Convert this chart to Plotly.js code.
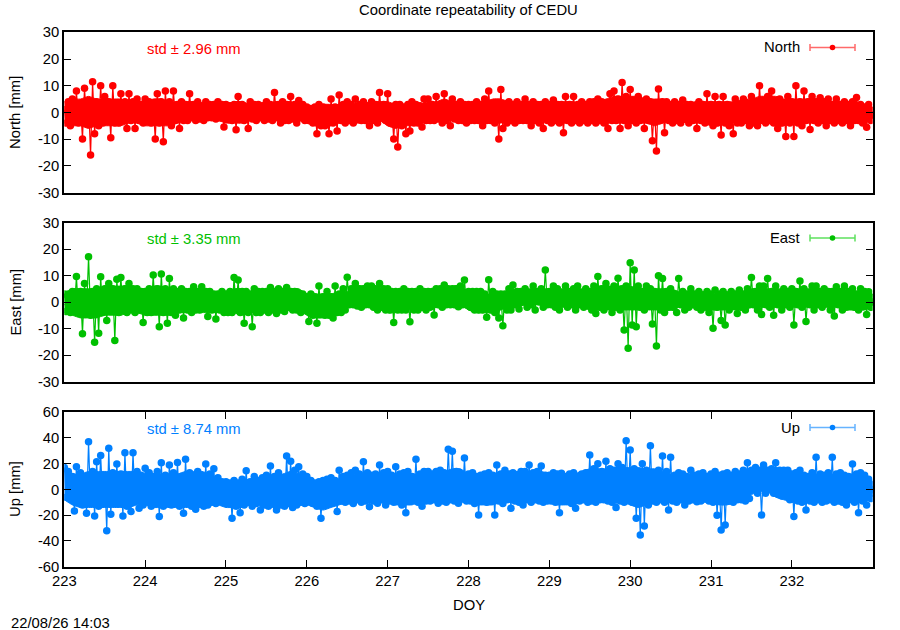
<!DOCTYPE html>
<html>
<head>
<meta charset="utf-8">
<script src="https://cdn.plot.ly/plotly-3.0.1.min.js"></script>
<style>html,body{margin:0;padding:0;background:#fff;}#chart{width:900px;height:630px;}</style>
</head>
<body>
<div id="chart"></div>
<script>
// ---- data ----
const doy = [
223,223.025,223.05,223.075,223.1,223.125,223.15,223.175,223.2,223.225,223.25,223.275,223.3,223.325,223.35,223.375,223.4,223.425,223.45,223.475,
223.5,223.525,223.55,223.575,223.6,223.625,223.65,223.675,223.7,223.725,223.75,223.775,223.8,223.825,223.85,223.875,223.9,223.925,223.95,223.975,
224,224.025,224.05,224.075,224.1,224.125,224.15,224.175,224.2,224.225,224.25,224.275,224.3,224.325,224.35,224.375,224.4,224.425,224.45,224.475,
224.5,224.525,224.55,224.575,224.6,224.625,224.65,224.675,224.7,224.725,224.75,224.775,224.8,224.825,224.85,224.875,224.9,224.925,224.95,224.975,
225,225.025,225.05,225.075,225.1,225.125,225.15,225.175,225.2,225.225,225.25,225.275,225.3,225.325,225.35,225.375,225.4,225.425,225.45,225.475,
225.5,225.525,225.55,225.575,225.6,225.625,225.65,225.675,225.7,225.725,225.75,225.775,225.8,225.825,225.85,225.875,225.9,225.925,225.95,225.975,
226,226.025,226.05,226.075,226.1,226.125,226.15,226.175,226.2,226.225,226.25,226.275,226.3,226.325,226.35,226.375,226.4,226.425,226.45,226.475,
226.5,226.525,226.55,226.575,226.6,226.625,226.65,226.675,226.7,226.725,226.75,226.775,226.8,226.825,226.85,226.875,226.9,226.925,226.95,226.975,
227,227.025,227.05,227.075,227.1,227.125,227.15,227.175,227.2,227.225,227.25,227.275,227.3,227.325,227.35,227.375,227.4,227.425,227.45,227.475,
227.5,227.525,227.55,227.575,227.6,227.625,227.65,227.675,227.7,227.725,227.75,227.775,227.8,227.825,227.85,227.875,227.9,227.925,227.95,227.975,
228,228.025,228.05,228.075,228.1,228.125,228.15,228.175,228.2,228.225,228.25,228.275,228.3,228.325,228.35,228.375,228.4,228.425,228.45,228.475,
228.5,228.525,228.55,228.575,228.6,228.625,228.65,228.675,228.7,228.725,228.75,228.775,228.8,228.825,228.85,228.875,228.9,228.925,228.95,228.975,
229,229.025,229.05,229.075,229.1,229.125,229.15,229.175,229.2,229.225,229.25,229.275,229.3,229.325,229.35,229.375,229.4,229.425,229.45,229.475,
229.5,229.525,229.55,229.575,229.6,229.625,229.65,229.675,229.7,229.725,229.75,229.775,229.8,229.825,229.85,229.875,229.9,229.925,229.95,229.975,
230,230.025,230.05,230.075,230.1,230.125,230.15,230.175,230.2,230.225,230.25,230.275,230.3,230.325,230.35,230.375,230.4,230.425,230.45,230.475,
230.5,230.525,230.55,230.575,230.6,230.625,230.65,230.675,230.7,230.725,230.75,230.775,230.8,230.825,230.85,230.875,230.9,230.925,230.95,230.975,
231,231.025,231.05,231.075,231.1,231.125,231.15,231.175,231.2,231.225,231.25,231.275,231.3,231.325,231.35,231.375,231.4,231.425,231.45,231.475,
231.5,231.525,231.55,231.575,231.6,231.625,231.65,231.675,231.7,231.725,231.75,231.775,231.8,231.825,231.85,231.875,231.9,231.925,231.95,231.975,
232,232.025,232.05,232.075,232.1,232.125,232.15,232.175,232.2,232.225,232.25,232.275,232.3,232.325,232.35,232.375,232.4,232.425,232.45,232.475,
232.5,232.525,232.55,232.575,232.6,232.625,232.65,232.675,232.7,232.725,232.75,232.775,232.8,232.825,232.85,232.875,232.9,232.925,232.95,232.975,
233];

const north = [
1,-4,4,-5,5,-3,8,-4,3,-10,9,-3,4,-16,11.5,-8,4,-5,10,-4,
6,-3,4,-9.5,10,-4,3,-4,7,-3,4,-6,7,-3,4,-6,5,-3,3,-4,
5,-3,4,-4,3,-10,7,-4,4,-11,8,-3,4,-5,8,-3,3,-6,4,-3,
3,-3,7,-2,3,-3,4,-2.5,2.5,-3,4,-2,3,-2,3,-2.5,4,-2,3,-5.5,
3,-2.5,2.5,-3,3,-6.5,6,-2,3,-3,2,-6,4,-2.5,3,-3,3,-2,2.5,-3,
4,-2.5,3,-3,7.5,-2,3,-4,4,-3,3,-3,6,-2.5,3,-4,4.5,-2,3,-3,
2,-3,1.5,-4,2,-8,3,-5,2,-5,1,-8,5,-4,2,-7,6.5,-3,3,-4,
4,-3,3,-4,5,-2.5,3,-3,4,-3,2.5,-5,4,-3,3,-4,7.5,-2,3,-3,
7,-4,2,-10,3,-13,3,-5,2,-8,3,-7,4,-4,3,-4,2.5,-5.5,5,-3,
5,-3,3,-3,6,-2.5,3,-4,7,-3,3,-5,5,-2.5,3,-3,4,-3,3,-4,
3,-3,3,-3,4,-3,3,-5,5,-3,8,-3,3,-4,3,-10,8.6,-6,3,-4,
4,-3,3,-4,4,-3,3,-3,5,-3,3,-5,4,-3,3,-4,3,-6,4,-3,
3,-4,4.6,-3,3,-4,3,-7.6,6,-3,3,-4,6,-3,3,-4,4,-3,3,-4,
4,-3,4,-4,5,-3,4,-4,3,-6,7,-3,8,-3,5,-6,11.2,-3,6,-5,
8.6,-3,4,-4,6,-3,4,-6,5,-3,4,-10.6,3,-14.5,8.75,-3,4,-7.6,4,-3,
3,-4,4,-3,3,-4,4.6,-2.5,3,-4,3,-3,2.5,-6,4,-3,3,-4,7,-3,
3,-5,6,-4,3,-8.5,6,-4,3,-5,2,-8,5,-4,3,-4,5,-3,3,-5,
6,-4,4,-5,10,-3,4,-4,6,-3,8,-4,4,-6,5,-4,3,-9,6,-4,
4,-9,10,-4,4,-5,8,-3,4,-6.4,6,-3,4,-4,5.5,-3,4,-5,5,-3,
3,-4,5,-3,3,-4,4,-3,3,-5,4,-3,5.6,-3,3,-4,2,-5.6,3,-3,
-1];

const east = [
3,-3.6,3,-4,4,-3,9.6,-4,4,-12,7,-4,17.1,-5,4,-15.2,5,-11.8,9.5,-4,
5,-7,7,-3,5,-14.5,8.6,-4,9.2,-3,5,-4,7,-3,5,-4,5,-3,4,-7.7,
4,-4,5,-4,10.2,-3,5,-9.3,10.6,-4,5,-8,8.9,-4,5,-5,4,-3,5,-6,
4,-3,4,-4,5.8,-3,4,-3,5.8,-2,4,-5.5,4,-3,3,-6.4,3,-3,4,-4,
3,-4,4,-4,9.2,-3,8.3,-4,4,-8,4,-4,3,-9.3,5,-4,4,-4,4,-3,
4,-4,5.5,-3,4,-4.3,5,-3,4,-3.6,5.5,-2,4,-3,4,-3,3,-4,3,-3,
2,-7.4,3,-5,2,-8,6,-4,2,-5,4,-5,2,-6,6,-4,3,-4,5,-3,
9.3,-1,5,-1,7,-1.5,5,-2,5,-1,6,-1,6,-2,5,-3,7,-2,5,-3,
5,-3,4,-7.7,4,-3,4,-3,5,-3,4,-7.5,4,-3,4,-3,5,-2,4,-3,
4,-2,4,-4.9,5,-1,5,-2,6.4,-1,5,-1,5,-1,5,-1.8,6,-1,8.3,-1,
4,-2,4,-3,4,-3,4,-3,3,-5.8,8.4,-3,4,-4,3,-6,3,-9,3,-3,
5,-3,6.4,-1,4,-2.6,4,0,5,-2,3,-1,6,-3,4,0,5,-2,12.1,-1,
4,-1,6,-2,5,-3,3,0,6,-2,4,-1,5,-3,6,-1,3,-2,5,0,
4,-3,6,-4.3,9.6,-2,5,-3,7,-1,4,-4,6,-2,9,-3,5,-10.6,6,-17.5,
14.8,-8.7,12.1,-9.3,6,-2,4,-3,6,-1,5,-8.3,4,-16.6,9.9,-3,8.9,-4,4,-2,
5,-2,3,-4,8.9,-1,4,-3,3,-2,5,-1,3,-2,4,-3,2,-2,4,-4,
3,-9.9,4.5,-2,3,-7,4,-8.7,2,-3,4,-1,3,-4.3,4.5,-2,3,-3,5,-1,
9.2,-1,4,-3,6,-4.7,6,-1,8.9,-2,4,-5,6,-1,3,-3,5,-1,4,-2,
5,-8.7,4,-1,7.9,-2,5,-7.4,3,-1,6,-3,6,-1,4,-2,5,0,4,-3,
4,-5.3,5.8,-1,4,-3,6,-2,4,-1,5,-2,3,-3,5,-1,4,-4.7,3.9,-2,
0];

const up = [
17,-6,14,-4,10,-16.7,17.7,-8,13,-12,9,-18.5,37.1,-11,14,-20.6,21.6,-13,26.4,-9,
11,-32,32,-19.3,13,-11,19.8,-9,12,-20.6,28.6,-13,10,-17.2,28.6,-9,14,-14.6,11,-12,
16.4,-9,13,-13,10,-11,14,-21,20.8,-13,11,-10,19,-12,13,-9,21,-13,10,-18.5,
23.4,-11,13,-13,10,-15.4,14,-11,11,-13,19.8,-12,12,-10,16,-11,9,-8,6,-10,
6,-9,5,-22.4,7,-13,5,-18,8,-12,14.6,-10,6,-13,10,-11,7,-16,9,-12,
11,-13,18.2,-11,10,-16,13,-12,9,-13,25.9,-11,22,-14,15,-12,17.7,-10,12,-11,
10,-9,7,-11,5,-13,6,-22.4,7,-12,8,-11,9,-10,7,-17.2,15,-9,10,-10,
11,-9,13,-11,15,-8,12,-10,21.6,-9,13,-13.4,11,-9,12,-10.8,19,-8,13,-12,
14,-9,11,-10,17.7,-8,12,-12,13,-18,14,-9,10,-8,23.4,-10,12,-13,14,-9,
14,-9,12,-8,14,-10.8,15,-9,13,-10,31.2,-8,29.6,-9,14,-10.8,12,-7,24.5,-9,
12,-9,13,-11,10,-19.8,11,-8,12,-10,13,-9,11,-19.8,19,-9,12,-11,15,-8,
12,-14.6,13,-9,11,-10,14,-12,14,-8,19,-10,13,-8,14,-9,18.2,-10,11,-9,
11,-9,13,-10,12,-18,12.5,-8,10,-8,12,-11,13,-14.6,10,-9,12,-8,13,-10,
26.8,-9,16,-10,20,-8,14,-8,22,-9,16,-10,15,-14,20,-9,17,-10,37.9,-8,
30.7,-10,16,-22.4,14,-35.4,20,-28.4,15,-12,34,-9,13,-10,15,-8,26,-10,14,-16,
25,-9,11,-10,13,-8,12,-12,10,-9,15,-8,11,-9.5,12,-9,13,-7,10,-9,
12,-10,14,-20,11,-31.5,12,-27.6,13,-9,11,-10,14,-8,12,-8,15,-9,20.8,-7,
15,2,17,-3,15,-19.8,19,-3,15,3,16,-3,20.8,-3,15,-5,15,-3,15,-8,
12,-21,13,-9,15,-10,11,-16,10,-9,13,-10,25,-8,12,-10,11,-9,13,-8,
25,-10,12,-9,13,-10,11,-12,10,-8,19.8,-10,12,-18,13,-9,11,-12,8,-7,
0];

// solid band of the dense point cloud: upper / lower edges every 0.1 day
const bandDoy = [
223,223.1,223.2,223.3,223.4,223.5,223.6,223.7,223.8,223.9,224,224.1,224.2,224.3,224.4,224.5,224.6,224.7,224.8,224.9,
225,225.1,225.2,225.3,225.4,225.5,225.6,225.7,225.8,225.9,226,226.1,226.2,226.3,226.4,226.5,226.6,226.7,226.8,226.9,
227,227.1,227.2,227.3,227.4,227.5,227.6,227.7,227.8,227.9,228,228.1,228.2,228.3,228.4,228.5,228.6,228.7,228.8,228.9,
229,229.1,229.2,229.3,229.4,229.5,229.6,229.7,229.8,229.9,230,230.1,230.2,230.3,230.4,230.5,230.6,230.7,230.8,230.9,
231,231.1,231.2,231.3,231.4,231.5,231.6,231.7,231.8,231.9,232,232.1,232.2,232.3,232.4,232.5,232.6,232.7,232.8,232.9,
233];
const northUpper = [
4,5,5,6,5,5,5,5,4,4, 4,5,5,4,4,4,4,3,3,3,
3,4,4,3,3,3,4,4,4,3, 2,2,3,3,3,4,3,3,4,4,
4,3,3,3,3,4,4,5,4,4, 3,4,4,5,5,4,4,4,4,4,
4,4,4,4,3,3,4,5,6,6, 6,6,5,5,5,4,3,3,4,4,
4,4,4,4,5,5,6,6,6,5, 5,5,5,5,4,4,4,4,4,3,
2];
const northLower = [
-4,-5,-5,-6,-5,-5,-5,-5,-4,-4, -5,-5,-5,-5,-4,-3,-3,-3,-3,-3,
-4,-4,-4,-3,-3,-3,-3,-3,-3,-3, -4,-5,-6,-5,-4,-4,-4,-4,-3,-3,
-5,-6,-5,-5,-4,-4,-3,-3,-3,-3, -3,-4,-4,-4,-4,-3,-3,-4,-4,-3,
-3,-4,-4,-3,-3,-3,-4,-4,-4,-4, -4,-4,-4,-5,-4,-3,-3,-4,-4,-4,
-5,-5,-4,-4,-4,-4,-4,-4,-5,-5, -4,-4,-4,-4,-4,-4,-4,-4,-4,-4,
-2];
const eastUpper = [
3,5,5,5,5,6,6,6,6,5, 5,6,6,5,5,4,5,5,4,4,
4,5,5,4,4,4,5,5,5,5, 3,3,3,3,4,4,6,6,6,5,
4,4,4,3,3,3,4,5,6,6, 4,3,3,3,3,4,5,5,5,5,
5,5,5,5,5,5,6,6,6,6, 6,5,5,5,5,5,4,4,4,4,
3,3,4,4,4,5,5,5,5,5, 5,5,5,5,5,5,5,4,4,4,
3];
const eastLower = [
-4,-5,-6,-6,-6,-5,-5,-5,-4,-4, -5,-5,-5,-5,-4,-4,-4,-4,-4,-4,
-4,-4,-5,-4,-4,-4,-3,-3,-3,-3, -5,-6,-6,-5,-4,-1,-1,-1,-2,-2,
-4,-4,-3,-3,-3,-3,-2,-1,0,-1, -3,-4,-4,-4,-3,-2,-2,-1,-1,-1,
-1,-2,-2,-2,-2,-3,-3,-3,-3,-3, -3,-3,-3,-3,-3,-3,-2,-2,-2,-2,
-3,-3,-3,-3,-3,-2,-2,-2,-2,-2, -2,-2,-2,-2,-2,-2,-2,-3,-3,-3,
-1];
const upUpper = [
14,12,12,14,14,14,14,14,14,14, 12,12,12,12,12,14,14,14,12,8,
6,6,7,8,8,10,12,12,14,12, 8,7,7,7,8,10,12,12,12,12,
12,12,12,12,12,14,14,14,16,16, 12,12,12,12,14,14,14,14,14,14,
12,12,12,12,14,16,16,16,17,17, 17,17,16,16,14,12,12,12,12,12,
12,12,12,14,14,16,17,17,17,16, 12,12,12,12,12,12,12,12,12,12,
6];
const upLower = [
-8,-12,-14,-14,-14,-14,-14,-14,-14,-12, -12,-14,-14,-14,-14,-14,-14,-14,-12,-12,
-14,-14,-14,-12,-12,-14,-14,-14,-12,-12, -12,-14,-16,-14,-12,-10,-10,-10,-10,-10,
-10,-12,-12,-12,-10,-10,-10,-10,-10,-10, -10,-12,-12,-12,-10,-10,-10,-10,-10,-10,
-10,-12,-12,-12,-10,-10,-8,-8,-10,-10, -12,-14,-12,-10,-10,-10,-10,-10,-10,-10,
-10,-12,-12,-10,-10,-4,-2,-2,-6,-8, -10,-10,-10,-10,-10,-10,-10,-10,-10,-10,
-5];

// thin black reference line
const refDoy = [223, 228, 233];
const refNorth = [0, 0, 0];
const refEast = [-1, -1, 0.5];
const refUp = [0, 0, 0];

const seriesNames = ['North', 'East', 'Up'];
const stdTexts = ['std \u00B1 2.96 mm', 'std \u00B1 3.35 mm', 'std \u00B1 8.74 mm'];
const yLabels = ['North [mm]', 'East [mm]', 'Up [mm]'];
const xTickVals = [223,224,225,226,227,228,229,230,231,232];
const xTickText = ['223','224','225','226','227','228','229','230','231','232'];
const neTickVals = [-30,-20,-10,0,10,20,30];
const neTickText = ['-30','-20','-10','0','10','20','30'];
const upTickVals = [-60,-40,-20,0,20,40,60];
const upTickText = ['-60','-40','-20','0','20','40','60'];

// ---- styling ----
const W = 900, H = 630;
const colors = ['#ff0000', '#00c000', '#0080ff'];
const lightColors = ['#ff6a6a', '#5ee05e', '#66b3ff'];
const FONT = 'Liberation Sans, Arial, Helvetica, sans-serif';
const FS = 14.8;
const px = x => x / W;
const py = y => 1 - y / H;

const xDom = [px(64.3), px(872.7)];
const yDoms = [[py(192.5), py(32.3)], [py(381.5), py(222.5)], [py(566.7), py(412.2)]];
const legY = [47.5, 238, 427.5];
const stdY = [49, 239, 428.5];

const ys = [north, east, up];
const uppers = [northUpper, eastUpper, upUpper];
const lowers = [northLower, eastLower, upLower];
const refs = [refNorth, refEast, refUp];
const bandX = bandDoy.concat(bandDoy.slice().reverse());
const traces = [];
for (let k = 0; k < 3; k++) {
  const xa = k === 0 ? 'x' : 'x' + (k + 1);
  const ya = k === 0 ? 'y' : 'y' + (k + 1);
  traces.push({x: refDoy, y: refs[k], xaxis: xa, yaxis: ya, type: 'scatter', mode: 'lines',
    line: {color: '#000', width: 1}, hoverinfo: 'skip', showlegend: false});
  traces.push({x: bandX, y: uppers[k].concat(lowers[k].slice().reverse()), xaxis: xa, yaxis: ya,
    type: 'scatter', mode: 'lines', fill: 'toself', fillcolor: colors[k],
    line: {color: colors[k], width: 1, shape: 'spline', smoothing: 0.6}, hoverinfo: 'skip', showlegend: false});
  traces.push({x: doy, y: ys[k], xaxis: xa, yaxis: ya, type: 'scatter', mode: 'lines+markers',
    name: seriesNames[k], line: {color: colors[k], width: 1.2},
    marker: {symbol: 'circle', size: 7.5, color: colors[k]}, showlegend: false});
}

function xAxis(k) {
  const base = {domain: xDom, range: [223, 233], anchor: k === 0 ? 'y' : 'y' + (k + 1),
    showline: true, linecolor: '#000', linewidth: 2, showgrid: false, zeroline: false,
    tickvals: xTickVals, ticktext: xTickText, tickfont: {family: FONT, size: FS, color: '#000'}};
  if (k < 2) { base.ticks = ''; base.showticklabels = false; base.mirror = true; }
  else { base.ticks = 'inside'; base.ticklen = 7; base.tickwidth = 1; base.tickcolor = '#000'; base.mirror = 'ticks'; }
  return base;
}
function yAxis(k) {
  const isUp = k === 2;
  return {domain: yDoms[k], range: isUp ? [-60, 60] : [-30, 30], anchor: k === 0 ? 'x' : 'x' + (k + 1),
    tickvals: isUp ? upTickVals : neTickVals, ticktext: isUp ? upTickText : neTickText,
    ticks: 'inside', ticklen: 7, tickwidth: 1, tickcolor: '#000', mirror: 'ticks',
    showline: true, linecolor: '#000', linewidth: 2, showgrid: false, zeroline: false,
    tickfont: {family: FONT, size: FS, color: '#000'}};
}

const annotations = [
  {text: 'Coordinate repeatability of CEDU', x: px(468.5), y: py(10), xref: 'paper', yref: 'paper',
   xanchor: 'center', yanchor: 'middle', showarrow: false, font: {family: FONT, size: FS, color: '#000'}},
  {text: 'DOY', x: px(468.5), y: py(605), xref: 'paper', yref: 'paper',
   xanchor: 'center', yanchor: 'middle', showarrow: false, font: {family: FONT, size: FS, color: '#000'}},
  {text: '22/08/26 14:03', x: px(9), y: py(622.5), xref: 'paper', yref: 'paper',
   xanchor: 'left', yanchor: 'middle', showarrow: false, font: {family: FONT, size: FS, color: '#000'}}
];
const shapes = [];
for (let k = 0; k < 3; k++) {
  const midY = (yDoms[k][0] + yDoms[k][1]) / 2;
  annotations.push({text: yLabels[k], x: px(15.5), y: midY, xref: 'paper', yref: 'paper', textangle: -90,
    xanchor: 'center', yanchor: 'middle', showarrow: false, font: {family: FONT, size: FS, color: '#000'}});
  annotations.push({text: stdTexts[k], x: px(145), y: py(stdY[k]), xref: 'paper', yref: 'paper',
    xanchor: 'left', yanchor: 'middle', showarrow: false, font: {family: FONT, size: FS, color: colors[k]}});
  annotations.push({text: seriesNames[k], x: px(802), y: py(legY[k]), xref: 'paper', yref: 'paper',
    xanchor: 'right', yanchor: 'middle', showarrow: false, font: {family: FONT, size: FS, color: '#000'}});
  const ly = legY[k];
  shapes.push({type: 'line', xref: 'paper', yref: 'paper', x0: px(810), x1: px(855), y0: py(ly), y1: py(ly),
    line: {color: lightColors[k], width: 1.5}});
  shapes.push({type: 'line', xref: 'paper', yref: 'paper', x0: px(810), x1: px(810), y0: py(ly - 3.5), y1: py(ly + 3.5),
    line: {color: lightColors[k], width: 1.5}});
  shapes.push({type: 'line', xref: 'paper', yref: 'paper', x0: px(855), x1: px(855), y0: py(ly - 3.5), y1: py(ly + 3.5),
    line: {color: lightColors[k], width: 1.5}});
  shapes.push({type: 'circle', xref: 'paper', yref: 'paper', x0: px(829.7), x1: px(835.3), y0: py(ly + 2.8), y1: py(ly - 2.8),
    fillcolor: colors[k], line: {color: colors[k], width: 0}});
}

const layout = {
  width: W, height: H, margin: {l: 0, r: 0, t: 0, b: 0},
  paper_bgcolor: '#fff', plot_bgcolor: '#fff', showlegend: false,
  font: {family: FONT, size: FS, color: '#000'},
  xaxis: xAxis(0), xaxis2: xAxis(1), xaxis3: xAxis(2),
  yaxis: yAxis(0), yaxis2: yAxis(1), yaxis3: yAxis(2),
  annotations: annotations, shapes: shapes
};

Plotly.newPlot('chart', traces, layout, {displayModeBar: false, staticPlot: true});
</script>
</body>
</html>
